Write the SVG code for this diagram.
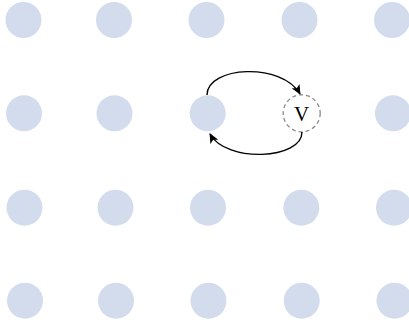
<svg xmlns="http://www.w3.org/2000/svg" width="409" height="324" viewBox="0 0 409 324">
  <style>
    .dot { fill: #d3dced; }
    .hole { fill: #ffffff; stroke: #8a8a8a; stroke-width: 1.3; stroke-dasharray: 4 3; }
    .edge { fill: none; stroke: #000; stroke-width: 1.4; }
    .lbl { font-family: "Liberation Serif", "DejaVu Serif", serif; font-size: 21px; fill: #000; }
  </style>
  <defs>
    <marker id="tip" viewBox="0 0 10 10" refX="9" refY="5" markerWidth="10" markerHeight="10" markerUnits="userSpaceOnUse" orient="auto">
      <path d="M0,0.5 L10,5 L0,9.5 L2.5,5 Z" fill="#000"/>
    </marker>
  </defs>
  <rect width="409" height="324" fill="#fff"/>
  <g id="row1">
    <circle class="dot" cx="23.5" cy="20" r="18"/>
    <circle class="dot" cx="114" cy="20" r="18"/>
    <circle class="dot" cx="206.5" cy="20" r="18"/>
    <circle class="dot" cx="299.5" cy="20" r="18"/>
    <circle class="dot" cx="392" cy="20" r="18"/>
  </g>
  <g id="row2">
    <circle class="dot" cx="24" cy="113.3" r="18"/>
    <circle class="dot" cx="114.5" cy="113.3" r="18"/>
    <g id="u"><circle class="dot" cx="207.7" cy="113.3" r="18"/></g>
    <circle class="dot" cx="393" cy="113.3" r="18"/>
  </g>
  <g id="v">
    <circle class="hole" cx="301.7" cy="113.3" r="18.5"/>
    <text class="lbl" x="301.7" y="121" text-anchor="middle">V</text>
  </g>
  <g id="row3">
    <circle class="dot" cx="24.5" cy="207.7" r="18"/>
    <circle class="dot" cx="115.5" cy="207.7" r="18"/>
    <circle class="dot" cx="208" cy="207.7" r="18"/>
    <circle class="dot" cx="301.3" cy="207.7" r="18"/>
    <circle class="dot" cx="394" cy="207.7" r="18"/>
  </g>
  <g id="row4">
    <circle class="dot" cx="25" cy="300.7" r="18"/>
    <circle class="dot" cx="116" cy="300.7" r="18"/>
    <circle class="dot" cx="208.5" cy="300.7" r="18"/>
    <circle class="dot" cx="301.7" cy="300.7" r="18"/>
    <circle class="dot" cx="394.5" cy="300.7" r="18"/>
  </g>
  <g id="connectors">
    <path class="edge" d="M207,95 C207,66 282,62 300,94" marker-end="url(#tip)"/>
    <path class="edge" d="M302,132 C302,160 226,163 210,134" marker-end="url(#tip)"/>
  </g>
</svg>
